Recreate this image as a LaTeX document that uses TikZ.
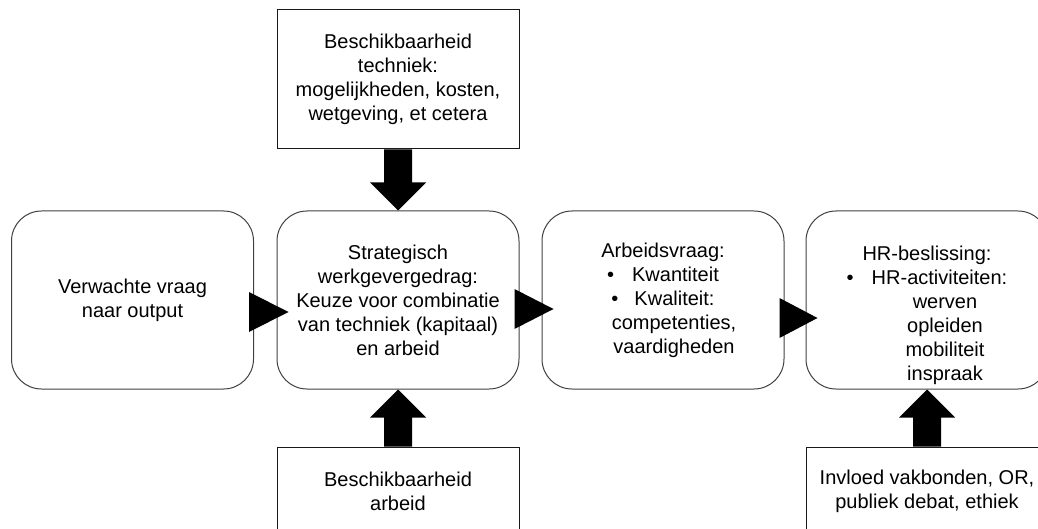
\documentclass[tikz,border=0pt]{standalone}
\usepackage{fontspec}
\setmainfont{Liberation Sans}
\usetikzlibrary{calc}

\tikzset{
	roundbox/.style={draw=black!75,line width=1pt,rounded corners=30pt,minimum width=242pt,minimum height=178pt,align=center},
	plainbox/.style={draw=black!90,line width=1pt,minimum width=242pt,align=center},
	blockarrow/.style={fill=black}
}

\begin{document}
\begin{tikzpicture}[x=1pt,y=-1pt,font=\fontsize{20}{24}\selectfont]
	\useasboundingbox (0,0) rectangle (1038,529);
	\clip (0,0) rectangle (1038,529);

	\node[plainbox,minimum height=139pt] (techniek) at (398,79.5) {Beschikbaarheid\\techniek:\\mogelijkheden, kosten,\\wetgeving, et cetera};

	\node[roundbox] (vraag) at (132.5,300) {Verwachte vraag\\naar output};
	\node[roundbox] (strategie) at (398,300) {Strategisch\\werkgevergedrag:\\Keuze voor combinatie\\van techniek (kapitaal)\\en arbeid};
	\node[roundbox] (arbeidsvraag) at (663,300) {Arbeidsvraag:\\\textbullet\hspace{18pt}Kwantiteit\\\textbullet\hspace{16pt}Kwaliteit:\\\hspace*{22pt}competenties,\\\hspace*{22pt}vaardigheden};
	\node[roundbox] (hr) at (927,300) {};
	\node[align=center] (hrtekst) at ([yshift=-15pt]hr.center) {HR-beslissing:\\\textbullet\hspace{18pt}HR-activiteiten:\\\hspace*{36pt}werven\\\hspace*{36pt}opleiden\\\hspace*{36pt}mobiliteit\\\hspace*{36pt}inspraak};

	\node[plainbox,minimum height=88pt] (arbeid) at (398,491) {Beschikbaarheid\\arbeid};
	\node[plainbox,minimum height=88pt] (invloed) at (927,491) {Invloed vakbonden, OR,\\publiek debat, ethiek};

	% block arrows, vertical
	\foreach \from/\to/\d in {techniek.south/strategie.north/1,arbeid.north/strategie.south/-1,invloed.north/hr.south/-1}
		\fill[blockarrow] (\from) ++(-14,0) |- ($(\to)+(-14,-28*\d)$) -- ++(-14,0) -- (\to) -- ($(\to)+(28,-28*\d)$) -- ++(-14,0) |- (\from) -- cycle;

	% triangles between the boxes
	\foreach \from/\to/\s in {vraag/strategie/12,strategie/arbeidsvraag/9,arbeidsvraag/hr/18}
		\fill[blockarrow] ($(\from.east)+(-5,\s-20)$) -- ($(\from.east)+(-5,\s+20)$) -- ($(\to.west)+(12,\s)$) -- cycle;
\end{tikzpicture}
\end{document}
